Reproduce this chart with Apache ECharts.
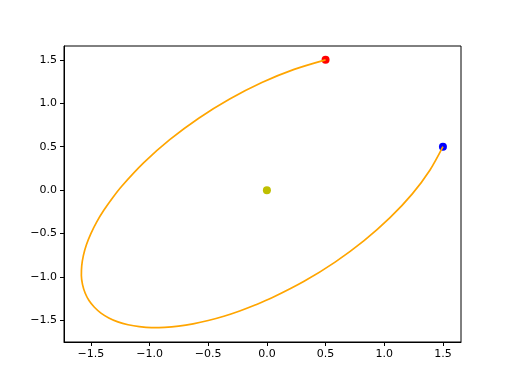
<!DOCTYPE html>
<html><head><meta charset="utf-8">
<script src="https://cdn.jsdelivr.net/npm/echarts@6/dist/echarts.min.js"></script>
<style>html,body{margin:0;padding:0;background:#fff}#c{width:512px;height:384px}</style>
</head><body><div id="c"></div>
<script>
const curveX = [1.5, 1.390, 1.239, 1.049, 0.828, 0.581, 0.317, 0.043, -0.095, -0.232, -0.367, -0.5, -0.629, -0.753, -0.871, -0.983, -1.087, -1.183, -1.270, -1.347, -1.414, -1.470, -1.516, -1.549, -1.571, -1.581, -1.578, -1.564, -1.538, -1.5, -1.451, -1.390, -1.319, -1.239, -1.049, -0.828, -0.581, -0.317, -0.043, 0.232, 0.5];
const curveY = [0.5, 0.232, -0.043, -0.317, -0.581, -0.828, -1.049, -1.239, -1.319, -1.390, -1.451, -1.5, -1.538, -1.564, -1.578, -1.581, -1.571, -1.549, -1.516, -1.470, -1.414, -1.347, -1.270, -1.183, -1.087, -0.983, -0.871, -0.753, -0.629, -0.5, -0.367, -0.232, -0.095, 0.043, 0.317, 0.581, 0.828, 1.049, 1.239, 1.390, 1.5];
const startPoint = [1.5, 0.5];
const endPoint = [0.5, 1.5];
const centerPoint = [0, 0];
const xTicks = [-1.5, -1.0, -0.5, 0.0, 0.5, 1.0, 1.5];
const yTicks = [-1.5, -1.0, -0.5, 0.0, 0.5, 1.0, 1.5];

const fmt = v => (v < 0 ? '\u2212' : '') + Math.abs(v).toFixed(1);
const chart = echarts.init(document.getElementById('c'));
const axisCommon = {
  type: 'value',
  splitLine: {show: false},
  axisLine: {show: true, onZero: false, lineStyle: {color: '#000', width: 1}},
  axisTick: {show: true, length: 4, inside: false, lineStyle: {color: '#000', width: 1}},
  axisLabel: {color: '#000', fontFamily: 'DejaVu Sans', fontSize: 11, formatter: fmt}
};
chart.setOption({
  animation: false,
  grid: {left: 64, right: 51, top: 46, bottom: 42, show: true, borderColor: '#000', borderWidth: 1, containLabel: false},
  xAxis: Object.assign({}, axisCommon, {
    min: -1.729, max: 1.654,
    axisTick: Object.assign({}, axisCommon.axisTick, {customValues: xTicks}),
    axisLabel: Object.assign({}, axisCommon.axisLabel, {customValues: xTicks, margin: 7})
  }),
  yAxis: Object.assign({}, axisCommon, {
    min: -1.747, max: 1.659,
    axisTick: Object.assign({}, axisCommon.axisTick, {customValues: yTicks}),
    axisLabel: Object.assign({}, axisCommon.axisLabel, {customValues: yTicks, margin: 7})
  }),
  series: [
    {type: 'scatter', data: [startPoint], symbolSize: 8, itemStyle: {color: '#0000ff', opacity: 1}, z: 2},
    {type: 'scatter', data: [endPoint], symbolSize: 8, itemStyle: {color: '#ff0000', opacity: 1}, z: 2},
    {type: 'scatter', data: [centerPoint], symbolSize: 8, itemStyle: {color: '#bfbf00', opacity: 1}, z: 2},
    {type: 'line', data: curveX.map((x, i) => [x, curveY[i]]), showSymbol: false, smooth: 0.3,
     lineStyle: {color: '#ffa500', width: 1.7}, z: 3}
  ]
});
</script></body></html>
